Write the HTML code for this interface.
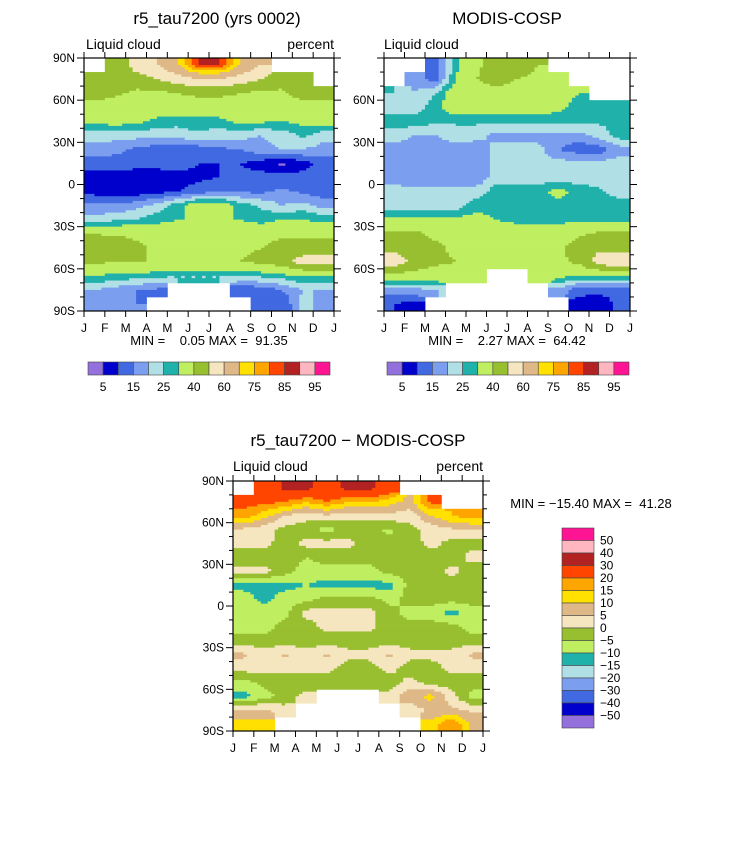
<!DOCTYPE html>
<html><head><meta charset="utf-8"><style>
body{margin:0;background:#fff;}
svg{display:block;font-family:"Liberation Sans",sans-serif;}
</style></head><body>
<svg id="fig" width="733" height="855" viewBox="0 0 733 855">
<g id="g1"></g>
<g id="g2"></g>
<g id="g3"></g>
<g id="labels" font-size="13" fill="#000">
<text x="217" y="24" text-anchor="middle" font-size="17">r5_tau7200 (yrs 0002)</text>
<text x="86" y="49" font-size="14">Liquid cloud</text>
<text x="334" y="49" font-size="14" text-anchor="end">percent</text>
<text x="507" y="24" text-anchor="middle" font-size="17">MODIS-COSP</text>
<text x="384" y="49" font-size="14">Liquid cloud</text>
<text x="358" y="446" text-anchor="middle" font-size="17">r5_tau7200 − MODIS-COSP</text>
<text x="233" y="471" font-size="14">Liquid cloud</text>
<text x="483" y="471" font-size="14" text-anchor="end">percent</text>
<text x="209" y="345" text-anchor="middle" xml:space="preserve">MIN =    0.05 MAX =  91.35</text>
<text x="507" y="345" text-anchor="middle" xml:space="preserve">MIN =    2.27 MAX =  64.42</text>
<text x="591" y="508" text-anchor="middle" xml:space="preserve">MIN = −15.40 MAX =  41.28</text>
</g>
</svg>
<script>
const months=["J","F","M","A","M","J","J","A","S","O","N","D","J"];
const absLevels=[5,10,15,20,25,30,40,50,60,70,75,80,85,90,95];
const absLabels=["5","15","25","40","60","75","85","95"];
const diffLevels=[-50,-40,-30,-20,-15,-10,-5,0,5,10,15,20,30,40,50];
const colors=["#9370db","#0000cd","#4169e1","#7b9eee","#b0e0e6","#20b2aa","#bfef60","#98bf30","#f5e6c0","#deb887","#ffe000","#ffa500","#ff4500","#b22222","#ffb6c1","#ff1493"];
const N=null;
const modelData=[
[N,40,55,60,70,85,85,70,60,N,N,N],
[45,45,45,50,55,60,60,55,50,45,45,N],
[45,42,38,38,40,42,42,40,38,38,45,45],
[35,35,35,35,35,35,35,35,35,35,35,35],
[32,33,32,28,27,28,28,32,31,30,32,33],
[22,22,22,22,22,24,22,22,20,22,26,22],
[18,17,14,12,12,12,14,15,18,20,20,18],
[12,12,12,12,12,10,10,10,8,4,8,12],
[8,8,7,7,8,9,10,11,12,12,12,14],
[8,7,7,8,10,12,15,14,14,16,14,12],
[16,16,18,22,28,35,35,28,24,20,22,18],
[22,24,25,28,30,30,30,30,28,30,30,28],
[40,38,38,35,35,35,35,35,35,38,38,38],
[45,50,42,38,32,35,35,38,40,44,44,45],
[42,40,40,40,40,40,40,40,42,45,55,55],
[30,28,28,26,25,25,25,25,26,28,30,30],
[20,18,15,14,N,N,N,10,12,15,20,20],
[18,18,15,N,N,N,N,N,12,10,22,18]];
const modisData=[
[N,N,12,28,38,45,45,40,N,N,N,N],
[N,18,12,30,40,45,40,38,35,N,N,N],
[25,20,25,35,35,35,35,35,32,30,N,N],
[22,22,28,35,35,35,35,35,32,28,28,25],
[28,28,26,26,26,26,26,26,26,26,26,26],
[22,20,20,22,22,18,18,18,18,18,22,28],
[18,18,18,18,17,22,22,22,15,12,12,18],
[18,18,18,18,20,20,20,22,22,22,22,22],
[18,16,16,16,16,22,22,22,22,22,22,22],
[22,22,22,22,22,28,28,28,32,28,26,22],
[22,22,22,22,28,28,28,28,28,28,28,28],
[32,32,32,32,32,30,28,28,28,28,28,28],
[42,42,38,35,35,35,35,35,35,38,42,42],
[48,45,42,38,35,35,35,35,38,45,48,45],
[55,48,42,40,38,38,35,35,38,42,55,60],
[38,35,35,35,38,N,N,38,32,30,30,30],
[18,18,20,N,N,N,N,N,18,12,12,12],
[10,8,N,N,N,N,N,N,N,8,6,12]];
const diffData=[
[N,22,32,32,25,32,32,25,N,N,N,N],
[22,22,20,15,20,15,15,12,8,22,N,N],
[18,12,5,2,4,2,2,4,2,10,15,18],
[4,2,-2,-3,-7,-3,-3,-6,-2,2,4,5],
[2,2,-3,2,2,2,-3,-3,-3,2,-2,-2],
[-3,-3,-3,-5,-3,-3,-3,-3,-3,-3,-3,2],
[2,2,-3,-7,-7,-7,-7,-3,-3,-3,2,-3],
[-12,-12,-12,-10,-12,-12,-12,-12,-3,-3,-3,-3],
[-7,-12,-7,-7,-3,-3,-3,-7,-3,-3,-3,-3],
[-7,-7,-7,2,2,2,2,-3,-7,-7,-12,-7],
[-7,-7,-3,-3,2,2,2,-3,-3,-3,-3,-7],
[-3,-3,-3,-3,-3,-3,-3,-3,-3,-3,-3,-3],
[6,2,6,2,6,2,2,6,2,2,2,6],
[2,2,2,2,2,-3,-3,2,-3,-3,2,2],
[-7,-3,-3,-3,-3,-3,-3,-3,2,-3,-3,-3],
[-12,-7,-3,2,N,N,N,2,8,12,2,-7],
[6,6,2,N,N,N,N,N,2,6,6,4],
[12,12,N,N,N,N,N,N,N,12,20,8]];
const latTicks=[90,60,30,0,-30,-60,-90];
const latNames=["90N","60N","30N","0","30S","60S","90S"];
const NS="http://www.w3.org/2000/svg";
function mk(tag,attrs,parent){const e=document.createElementNS(NS,tag);for(const k in attrs)e.setAttribute(k,attrs[k]);parent.appendChild(e);return e;}
function colorIdx(v,levels){let i=0;while(i<levels.length&&v>=levels[i])i++;return i;}
function sample(data,u,v){
  const nr=data.length,nc=data[0].length;
  const ci=Math.min(nc-1,Math.max(0,Math.floor(u))),ri=Math.min(nr-1,Math.max(0,Math.floor(v)));
  const own=data[ri][ci]; if(own===null) return null;
  const x=Math.min(nc-1,Math.max(0,u-0.5)),y=Math.min(nr-1,Math.max(0,v-0.5));
  const c0=Math.floor(x),r0=Math.floor(y),c1=Math.min(nc-1,c0+1),r1=Math.min(nr-1,r0+1);
  const fx=x-c0,fy=y-r0;
  const g=(r,c)=>{const q=data[r][c];return q===null?own:q;};
  return g(r0,c0)*(1-fx)*(1-fy)+g(r0,c1)*fx*(1-fy)+g(r1,c0)*(1-fx)*fy+g(r1,c1)*fx*fy;
}
function drawPanel(g,data,levels,x0,y0,w,h,labelSet){
  const nc=data[0].length,nr=data.length,S=6;
  const xs=m=>x0+m*w/nc, ys=lat=>y0+(90-lat)/180*h;
  const sw=w/(nc*S),sh=h/(nr*S);
  for(let j=0;j<nr*S;j++){
    let runStart=0,runIdx=-2;
    const flush=(end)=>{if(runIdx>=0){const rc=mk('rect',{x:x0+runStart*sw,y:y0+j*sh,width:(end-runStart)*sw+0.4,height:sh+0.4,fill:colors[runIdx]},g);
      
      }};
    for(let i=0;i<=nc*S;i++){
      let idx=-1;
      if(i<nc*S){const val=sample(data,(i+0.5)/S,(j+0.5)/S);idx=val===null?-1:colorIdx(val,levels);}
      else idx=-3;
      if(idx!==runIdx){flush(i);runStart=i;runIdx=idx;}
    }
  }
  mk('rect',{x:x0,y:y0,width:w,height:h,fill:'none',stroke:'#000','stroke-width':1.2},g);
  for(let m=0;m<=12;m++){const x=xs(m);
    mk('line',{x1:x,x2:x,y1:y0+h,y2:y0+h+6,stroke:'#000'},g);
    mk('line',{x1:x,x2:x,y1:y0,y2:y0-6,stroke:'#000'},g);
    const t=mk('text',{x:x,y:y0+h+21,'text-anchor':'middle','font-size':12},g);t.textContent=months[m];
    
    }
  for(let lat=-90;lat<=90;lat+=10){const y=ys(lat);const major=lat%30===0;const L=major?7:4;
    mk('line',{x1:x0,x2:x0-L,y1:y,y2:y,stroke:'#000'},g);
    mk('line',{x1:x0+w,x2:x0+w+L,y1:y,y2:y,stroke:'#000'},g);}
  latTicks.forEach((lat,i)=>{if(!labelSet.includes(i))return;
    const t=mk('text',{x:x0-9,y:ys(lat)+4,'text-anchor':'end','font-size':12},g);t.textContent=latNames[i];
    
    });
}
drawPanel(document.getElementById('g1'),modelData,absLevels,84,58,250,253,[0,1,2,3,4,5,6]);
drawPanel(document.getElementById('g2'),modisData,absLevels,384,58,246,253,[1,2,3,4,5]);
drawPanel(document.getElementById('g3'),diffData,diffLevels,233,481,250,250,[0,1,2,3,4,5,6]);
function hbar(x0,y0,w,h){const g=mk('g',{},document.getElementById('fig'));
  
  
  const bw=w/colors.length;
  colors.forEach((c,i)=>{mk('rect',{x:x0+i*bw,y:y0,width:bw,height:h,fill:c,stroke:'#444','stroke-width':0.6},g);});
  absLabels.forEach((l,k)=>{const t=mk('text',{x:x0+(2*k+1)*bw,y:y0+h+16,'text-anchor':'middle','font-size':12},g);t.textContent=l;
    
    });}
hbar(88,362,242,13);hbar(387,362,242,13);
(function(){const g=mk('g',{},document.getElementById('fig'));
  
  
  const x0=562,y0=528,bh=12.5;
  colors.slice().reverse().forEach((c,i)=>{mk('rect',{x:x0,y:y0+i*bh,width:32,height:bh,fill:c,stroke:'#444','stroke-width':0.6},g);});
  diffLevels.slice().reverse().forEach((l,i)=>{const t=mk('text',{x:600,y:y0+(i+1)*bh+4,'font-size':12},g);t.textContent=(l<0?'−'+(-l):''+l);
    
    });})();
</script>
</body></html>
